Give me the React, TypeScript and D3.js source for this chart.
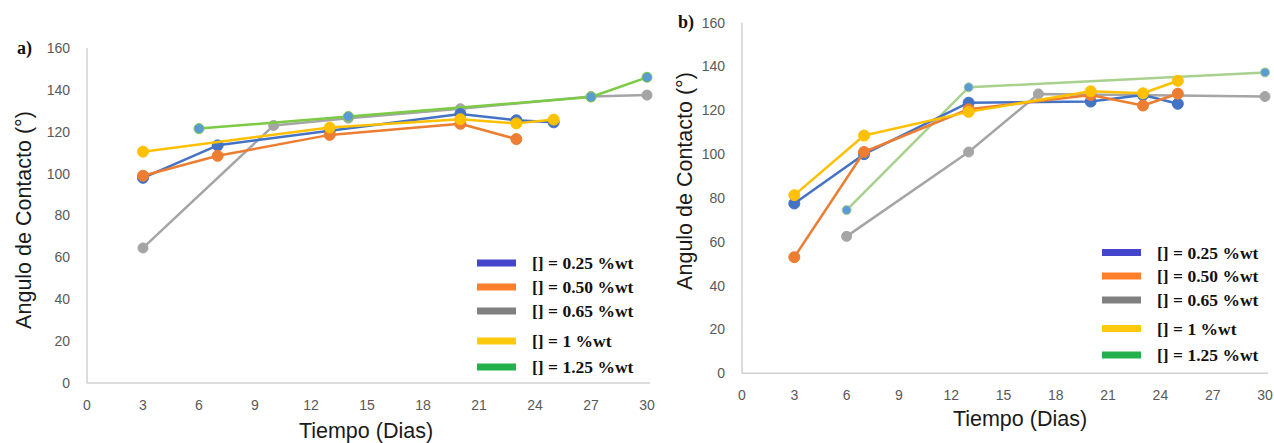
import React from "react";
import * as d3 from "d3";

// Contact angle vs. time for different nanoparticle concentrations
const seriesLabels = ["[] = 0.25 %wt", "[] = 0.50 %wt", "[] = 0.65 %wt", "[] = 1 %wt", "[] = 1.25 %wt"];
const xTicks = [0, 3, 6, 9, 12, 15, 18, 21, 24, 27, 30];
const yTicks = [0, 20, 40, 60, 80, 100, 120, 140, 160];

// Panel a)
const aDays025 = [3, 7, 13, 20, 23, 25];
const aVals025 = [98, 113.5, 120.5, 128.5, 125.5, 124.5];
const aDays050 = [3, 7, 13, 20, 23];
const aVals050 = [99, 108.5, 118.5, 123.8, 116.5];
const aDays065 = [3, 10, 14, 20, 27, 30];
const aVals065 = [64.5, 123, 126.5, 131, 136.8, 137.5];
const aDays100 = [3, 13, 20, 23, 25];
const aVals100 = [110.5, 122, 126, 124, 125.8];
const aDays125 = [6, 14, 27, 30];
const aVals125 = [121.5, 127.3, 136.6, 146];

// Panel b)
const bDays025 = [3, 7, 13, 20, 23, 25];
const bVals025 = [77.5, 100, 123.5, 124, 127, 123];
const bDays050 = [3, 7, 13, 20, 23, 25];
const bVals050 = [53, 101, 120.5, 127, 122.2, 127.6];
const bDays065 = [6, 13, 17, 30];
const bVals065 = [62.5, 101, 127.5, 126.3];
const bDays100 = [3, 7, 13, 20, 23, 25];
const bVals100 = [81.3, 108.5, 119.3, 128.7, 127.8, 133.5];
const bDays125 = [6, 13, 30];
const bVals125 = [74.5, 130.5, 137.3];

const legendColors = ["#4444cc", "#ff7f2a", "#808080", "#ffc90e", "#22b14c"];

type Series = { x: number[]; y: number[]; line: string; marker: string; r: number };

const panelASeries: Series[] = [
  { x: aDays065, y: aVals065, line: "#a5a5a5", marker: "#a5a5a5", r: 5 },
  { x: aDays125, y: aVals125, line: "#7ccb45", marker: "#5b9bd5", r: 5 },
  { x: aDays025, y: aVals025, line: "#4472c4", marker: "#4472c4", r: 5.5 },
  { x: aDays050, y: aVals050, line: "#ed7d31", marker: "#ed7d31", r: 5.5 },
  { x: aDays100, y: aVals100, line: "#ffc000", marker: "#ffc000", r: 5.5 },
];

const panelBSeries: Series[] = [
  { x: bDays125, y: bVals125, line: "#a9d18e", marker: "#5b9bd5", r: 4.5 },
  { x: bDays065, y: bVals065, line: "#a5a5a5", marker: "#a5a5a5", r: 5 },
  { x: bDays025, y: bVals025, line: "#4472c4", marker: "#4472c4", r: 5.5 },
  { x: bDays050, y: bVals050, line: "#ed7d31", marker: "#ed7d31", r: 5.5 },
  { x: bDays100, y: bVals100, line: "#ffc000", marker: "#ffc000", r: 5.5 },
];

type PanelProps = {
  tag: string;
  tagX: number;
  tagY: number;
  x0: number;
  x1: number;
  yTop: number;
  yBottom: number;
  series: Series[];
  yTitleX: number;
  yTitleY: number;
  xTitleX: number;
  xTitleY: number;
  legendX: number;
  legendYs: number[];
};

function Panel(p: PanelProps) {
  const x = d3.scaleLinear().domain([0, 30]).range([p.x0, p.x1]);
  const y = d3.scaleLinear().domain([0, 160]).range([p.yBottom, p.yTop]);
  const line = d3
    .line<[number, number]>()
    .x((d) => x(d[0]))
    .y((d) => y(d[1]));
  const sans = "'Liberation Sans', Arial, sans-serif";
  const serif = "'Liberation Serif', 'Times New Roman', serif";
  return (
    <g>
      <line x1={p.x0} x2={p.x0} y1={y(160)} y2={y(0)} stroke="#d0d0d0" strokeWidth={1.5} />
      <line x1={p.x0} x2={x(30) + 3} y1={y(0)} y2={y(0)} stroke="#d0d0d0" strokeWidth={1.5} />
      {yTicks.map((t) => (
        <text key={"y" + t} x={p.x0 - 17} y={y(t)} dy="0.35em" textAnchor="end" fontFamily={sans} fontSize={14} fill="#595959">
          {t}
        </text>
      ))}
      {xTicks.map((t) => (
        <text key={"x" + t} x={x(t)} y={y(0) + 22} dy="0.35em" textAnchor="middle" fontFamily={sans} fontSize={14} fill="#595959">
          {t}
        </text>
      ))}
      <text
        transform={`translate(${p.yTitleX},${p.yTitleY}) rotate(-90)`}
        textAnchor="middle"
        fontFamily={sans}
        fontSize={21.5}
        fill="#1a1a1a"
      >
        Angulo de Contacto (°)
      </text>
      <text x={p.xTitleX} y={p.xTitleY} textAnchor="middle" fontFamily={sans} fontSize={21.5} fill="#1a1a1a">
        Tiempo (Dias)
      </text>
      <text x={p.tagX} y={p.tagY} fontFamily={serif} fontWeight="bold" fontSize={18} fill="#111">
        {p.tag}
      </text>
      {p.series.map((s, i) => {
        const pts = s.x.map((d, j) => [d, s.y[j]] as [number, number]);
        return (
          <g key={"s" + i}>
            <path d={line(pts) || ""} fill="none" stroke={s.line} strokeWidth={2.5} strokeLinejoin="round" />
            {pts.map((d, j) => (
              <circle key={j} cx={x(d[0])} cy={y(d[1])} r={s.r} fill={s.marker} stroke={s.line} strokeWidth={1} />
            ))}
          </g>
        );
      })}
      {seriesLabels.map((lab, i) => (
        <g key={"l" + i}>
          <rect x={p.legendX} y={p.legendYs[i] - 3.5} width={39} height={7} fill={legendColors[i]} />
          <text
            x={p.legendX + 55}
            y={p.legendYs[i]}
            dy="0.35em"
            fontFamily={serif}
            fontWeight="bold"
            fontSize={17.5}
            fill="#111"
          >
            {lab}
          </text>
        </g>
      ))}
    </g>
  );
}

export default function App() {
  return (
    <svg
      width={1274}
      height={443}
      style={{ position: "absolute", left: 0, top: 0, background: "#fff" }}
    >
      <rect width={1274} height={443} fill="#fff" />
      <Panel
        tag="a)"
        tagX={17}
        tagY={54}
        x0={87}
        x1={647}
        yTop={48}
        yBottom={383}
        series={panelASeries}
        yTitleX={31}
        yTitleY={220}
        xTitleX={366}
        xTitleY={438}
        legendX={477}
        legendYs={[263, 287, 311, 341, 367]}
      />
      <Panel
        tag="b)"
        tagX={678}
        tagY={28}
        x0={742}
        x1={1265}
        yTop={22.7}
        yBottom={373.3}
        series={panelBSeries}
        yTitleX={692}
        yTitleY={181}
        xTitleX={1020}
        xTitleY={426}
        legendX={1102}
        legendYs={[252.5, 276, 300, 328.5, 355]}
      />
    </svg>
  );
}
